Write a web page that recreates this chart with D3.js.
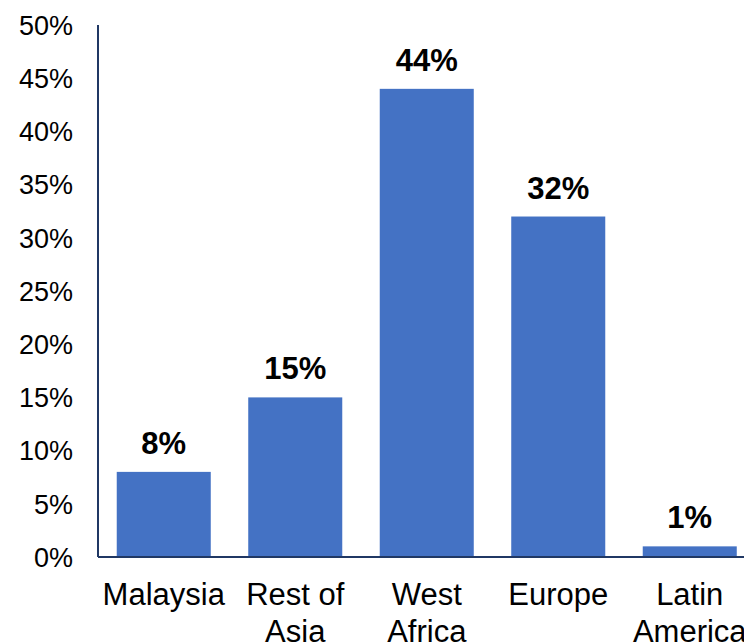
<!DOCTYPE html>
<html>
<head>
<meta charset="utf-8">
<script src="https://cdn.jsdelivr.net/npm/d3@7"></script>
<style>
  body { margin: 0; background: #fff; }
  svg { display: block; font-family: "Liberation Sans", Arial, sans-serif; }
</style>
</head>
<body>
<svg id="canvas" width="744" height="643"></svg>
<script>
// data
let regions = ['Malaysia', 'Rest of Asia', 'West Africa', 'Europe', 'Latin America']
let labelLines = [['Malaysia'], ['Rest of', 'Asia'], ['West', 'Africa'], ['Europe'], ['Latin', 'America']]
let shares = [0.08, 0.15, 0.44, 0.32, 0.01]
let yTicks = [0, 0.05, 0.10, 0.15, 0.20, 0.25, 0.30, 0.35, 0.40, 0.45, 0.50]

let canvas = d3.select('#canvas')

let plotLeft = 98, plotRight = 755.5, plotTop = 25, plotBottom = 557

let x = d3.scaleBand()
    .domain(regions)
    .range([plotLeft, plotRight])
    .paddingInner(0.285)
    .paddingOuter(0.1425)

let y = d3.scaleLinear()
    .domain([0, 0.5])
    .range([plotBottom, plotTop])

// y tick labels (no tick marks)
canvas.append('g')
    .selectAll('text')
    .data(yTicks)
    .enter()
    .append('text')
    .attr('x', 73)
    .attr('y', d => y(d))
    .attr('dy', '0.36em')
    .attr('text-anchor', 'end')
    .attr('font-size', 27)
    .attr('fill', '#000')
    .text(d => d3.format('.0%')(d))

// bars
canvas.append('g')
    .selectAll('rect')
    .data(shares)
    .enter()
    .append('rect')
    .attr('x', (d, i) => x(regions[i]))
    .attr('y', d => y(d))
    .attr('width', x.bandwidth())
    .attr('height', d => plotBottom - y(d))
    .attr('fill', '#4472C4')

// value labels
canvas.append('g')
    .selectAll('text')
    .data(shares)
    .enter()
    .append('text')
    .attr('x', (d, i) => x(regions[i]) + x.bandwidth() / 2)
    .attr('y', d => y(d) - 18)
    .attr('text-anchor', 'middle')
    .attr('font-size', 31)
    .attr('font-weight', 'bold')
    .attr('fill', '#000')
    .text(d => d3.format('.0%')(d))

// axes lines
canvas.append('line')
    .attr('x1', plotLeft).attr('x2', 744)
    .attr('y1', plotBottom).attr('y2', plotBottom)
    .attr('stroke', '#203864').attr('stroke-width', 2)
canvas.append('line')
    .attr('x1', plotLeft).attr('x2', plotLeft)
    .attr('y1', plotTop).attr('y2', plotBottom)
    .attr('stroke', '#203864').attr('stroke-width', 2)

// category labels
let cats = canvas.append('g')
    .selectAll('text')
    .data(regions)
    .enter()
    .append('text')
    .attr('text-anchor', 'middle')
    .attr('font-size', 31)
    .attr('fill', '#000')
    .attr('x', d => x(d) + x.bandwidth() / 2)
    .attr('y', 605)

cats.selectAll('tspan')
    .data((d, i) => labelLines[i])
    .enter()
    .append('tspan')
    .attr('x', function () { return d3.select(this.parentNode).attr('x') })
    .attr('dy', (d, i) => i === 0 ? 0 : 37)
    .text(d => d)
</script>
</body>
</html>
